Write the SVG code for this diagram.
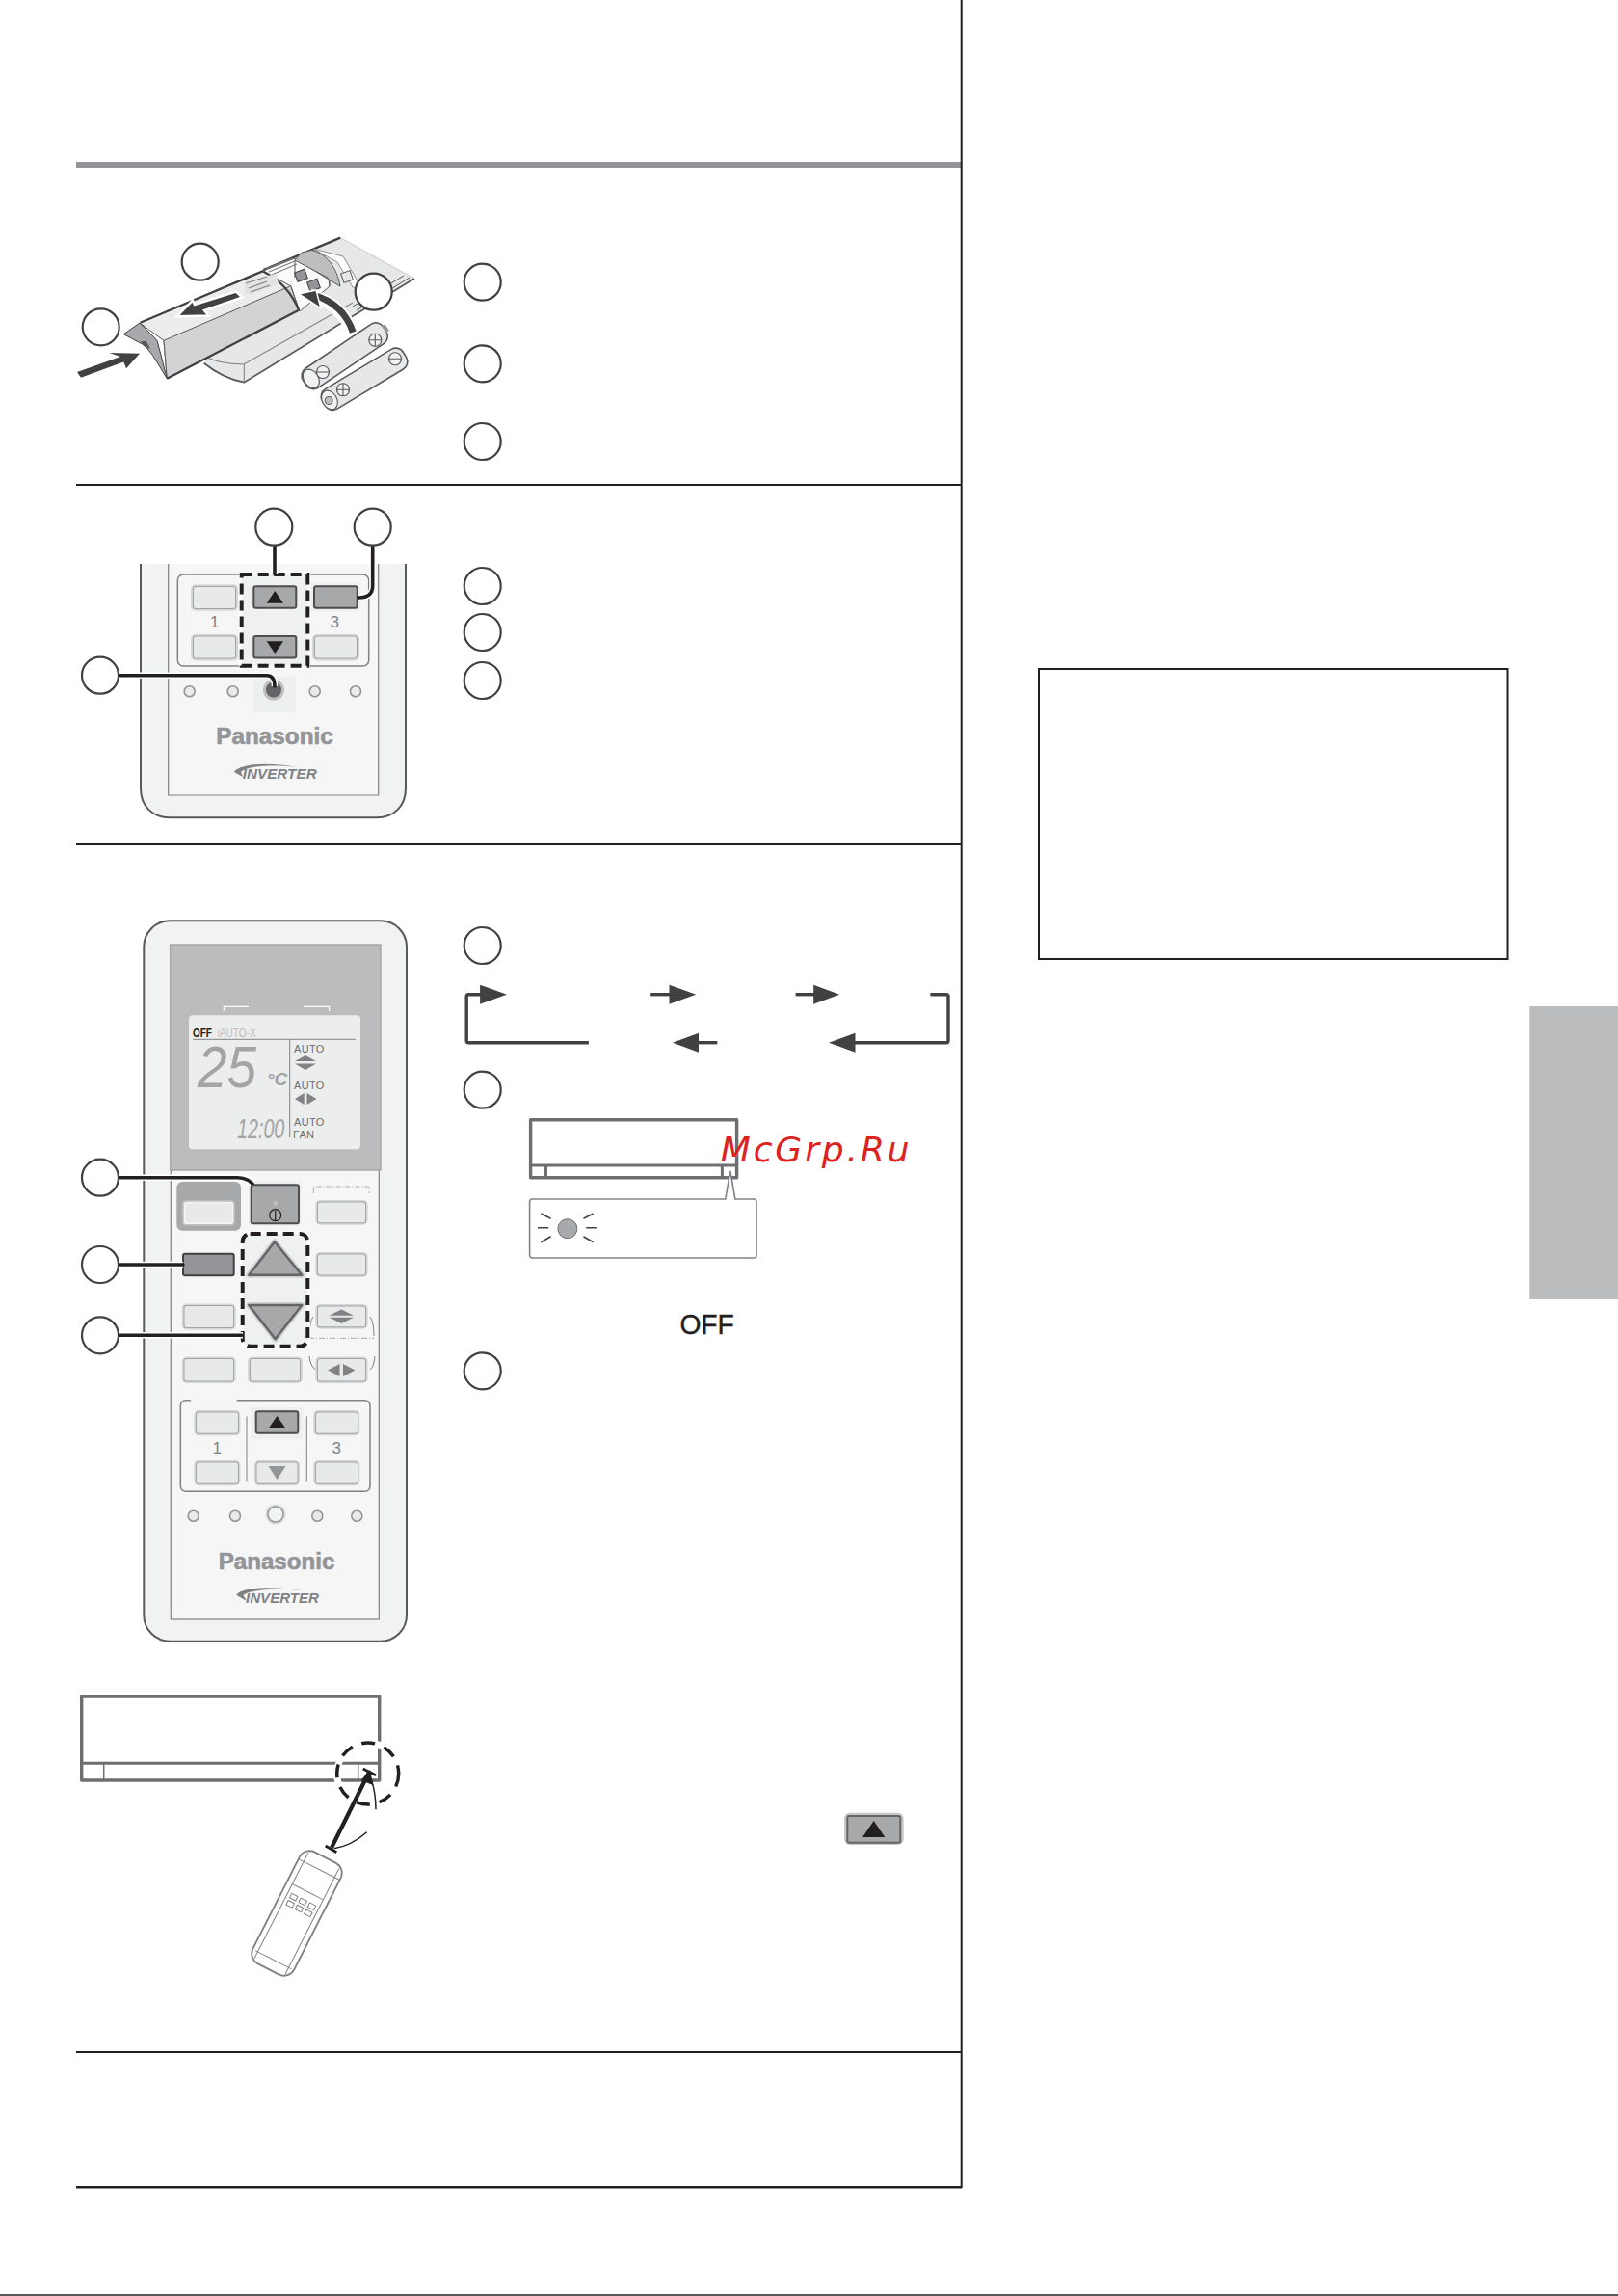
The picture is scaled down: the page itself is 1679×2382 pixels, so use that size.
<svg xmlns="http://www.w3.org/2000/svg" width="1679" height="2382" viewBox="0 0 1679 2382">
<style>
.ln{fill:none;stroke:#231f20;stroke-width:2}
.c{fill:#fff;stroke:#414042;stroke-width:2.2}
.bt{fill:#e8e9e9;stroke:#a3a4a6;stroke-width:2;paint-order:stroke}
.ht{fill:#d5d6d7}
.dk{fill:#a7a8aa;stroke:#4d4d4f;stroke-width:2}
.ring{fill:#e9eaea;stroke:#939598;stroke-width:1.6}
.logo{font-family:"Liberation Sans",Arial,sans-serif;font-weight:700;fill:#939598;stroke:#939598;stroke-width:.6;font-size:23px}
.inv{font-family:"Liberation Sans",Arial,sans-serif;font-weight:700;font-style:italic;fill:#808285;font-size:14px}
.num{font-family:"Liberation Sans",Arial,sans-serif;fill:#808285;font-size:17px;text-anchor:middle}
.lcd{font-family:"Liberation Sans",Arial,sans-serif;fill:#6d6e71;font-size:11px;letter-spacing:.3px}
.seg{font-family:"Liberation Sans",Arial,sans-serif;fill:#a3a4a6;font-style:italic}
.cn{fill:none;stroke:#231f20;stroke-width:3.6;stroke-linecap:round;stroke-linejoin:round}
.cw{fill:none;stroke:#fff;stroke-width:6.5}
.dash{fill:#eff0f0;stroke:#231f20;stroke-width:4;stroke-dasharray:11 6}
.ar{fill:none;stroke:#414042;stroke-width:3.4;stroke-linejoin:round}
.af{fill:#414042}
.unit{fill:#fff;stroke:#6d6e71;stroke-width:3.4;stroke-linejoin:round}
.unl{fill:none;stroke:#6d6e71;stroke-width:3}
.bat{fill:#e6e7e8;stroke:#58595b;stroke-width:1.6}
.sym{fill:#f1f2f2;stroke:#58595b;stroke-width:1.1}
</style>

<g id="page-rules">
<rect x="79" y="168" width="919" height="6" fill="#939598"/>
<path class="ln" d="M997.7 0V2270M79 503H998M79 876H998M79 2129H998"/>
<path d="M79 2269.3H998" stroke="#231f20" stroke-width="2.5" fill="none"/>
<path d="M0 2381H1679" stroke="#231f20" stroke-width="1.5" fill="none"/>
<rect x="1078" y="694" width="486.5" height="301" fill="#fff" stroke="#231f20" stroke-width="2"/>
<rect x="1587.3" y="1044" width="91.7" height="304" fill="#bbbcbe"/>
</g>

<g id="battery-illustration">
<path d="M273 281L353.3 246.7L430 289L253.3 396.700C235 393 222 385 211.700 376.700L230 340Z" fill="#e6e7e8"/>
<path d="M273.300 280L353.300 246.700" fill="none" stroke="#414042" stroke-width="2.400"/>
<path d="M353.300 246.700L430 289" fill="none" stroke="#c9cacb" stroke-width="1"/>
<path d="M430 289L253.300 396.700C235 393 222 385 211.700 376.700" fill="none" stroke="#58595b" stroke-width="1.800"/>
<path d="M425 288L370 322M419 286L366 318" fill="none" stroke="#58595b" stroke-width="1"/>
<path d="M253.300 396.700V377.700L366 314M213 370C225 376 238 378 253.300 377.700" fill="none" stroke="#808285" stroke-width="1.100"/>
<path d="M325 258L350 272L366 298L376 300L356 266Z" fill="#fff" stroke="#808285" stroke-width=".9"/>
<path d="M273 281L306 268L341 290L342 297L311 323L302 298Z" fill="#fbfbfb" stroke="#58595b" stroke-width="1"/>
<path d="M276 279L304 268M279 282L306 271M282 285L308 274" fill="none" stroke="#808285" stroke-width="1.300"/>
<path d="M306 270L313 262L323 259.500C338 262 350 278 353 297L341 290L340 288Z" fill="#bcbec0" stroke="#58595b" stroke-width="1"/>
<path d="M306 270V288M342 290V297" fill="none" stroke="#58595b" stroke-width="1"/>
<rect x="307" y="281" width="11" height="10" fill="#939598" stroke="#414042" stroke-width="1" transform="rotate(-20 312 286)"/>
<rect x="320" y="291" width="11" height="10" fill="#939598" stroke="#414042" stroke-width="1" transform="rotate(-20 325 296)"/>
<rect x="355" y="282" width="10" height="10" fill="#e6e7e8" stroke="#58595b" stroke-width="1" transform="rotate(-20 360 287)"/>
<path d="M145 335L273.300 281.700L301.700 296.700L310 321.700L173.300 392.700L170 353.300Z" fill="#ececed" stroke="#58595b" stroke-width="1"/>
<path d="M170 353.300L301.700 296.700L310 321.700L173.300 392.700Z" fill="#d1d3d4" stroke="#58595b" stroke-width="1"/>
<path d="M128.300 346.700L145 335L163 353.300L173.300 392.700L158.300 368.300L150 358.300Z" fill="#a7a9ac" stroke="#414042" stroke-width="1"/>
<path d="M146 334.500L273.300 281" fill="none" stroke="#414042" stroke-width="2.400"/>
<path d="M173.300 392.700L310 321.700" fill="none" stroke="#414042" stroke-width="2.400"/>
<path d="M273.300 281.700C290 290 302 302 310 321.700" fill="none" stroke="#414042" stroke-width="2.200"/>
<path d="M146 354L152 354L156 362L149 359Z" fill="#58595b"/>
<path d="M253 291L287 284L289 295L262 305L255 305Z" fill="#e1e2e3"/>
<path d="M255 294L277 287M258 299L277 292M260 303L280 296" fill="none" stroke="#808285" stroke-width="1.200"/>
<path d="M183.300 328.300L200 311.700L202 316L245 302.500L251.500 308.500L212 322L216.500 327.500Z" fill="#414042" stroke="#fff" stroke-width="2.500" stroke-linejoin="miter"/>
<path d="M145 366.700L131 382.300L128.300 375.500L84 391.700L80 386L125 370L113.300 366Z" fill="#414042"/>
<path d="M366 344C358 326 344 312 322 306" fill="none" stroke="#fff" stroke-width="13"/>
<path d="M366.300 344.700C360 326 346 312 325 306" fill="none" stroke="#414042" stroke-width="7"/>
<path d="M310 305L328 301L333 320Z" fill="#414042" stroke="#fff" stroke-width="1.500"/>
<g transform="translate(357.700 369.300) rotate(-34)"><rect class="bat" x="-50" y="-12" width="100" height="24" rx="9"/><ellipse class="sym" cx="-42" cy="0" rx="7.500" ry="10.500"/><rect x="49" y="-4" width="4" height="8" fill="#939598"/></g>
<g transform="translate(378 393.300) rotate(-31)"><rect class="bat" x="-49" y="-12" width="98" height="24" rx="9"/><ellipse class="sym" cx="-42" cy="0" rx="7.500" ry="10.500"/><circle cx="-43" cy="0" r="4" fill="#bcbec0" stroke="#58595b" stroke-width="1"/></g>
<path class="sym" d="M389.300 346.200a6.500 6.500 0 1 0 .01 0ZM382.800 352.700h13M389.300 346.200v13"/>
<path class="sym" d="M335 379.500a6.500 6.500 0 1 0 .01 0ZM328.500 386h13"/>
<path class="sym" d="M410 365.800a6.500 6.500 0 1 0 .01 0ZM403.500 372.300h13"/>
<path class="sym" d="M356 397.800a6.500 6.500 0 1 0 .01 0ZM349.500 404.300h13M356 397.800v13"/>
<circle class="c" cx="207.700" cy="271.700" r="19"/>
<circle class="c" cx="104.700" cy="339.300" r="19"/>
<circle class="c" cx="387.700" cy="302.700" r="19"/>
</g>

<g id="step-1-markers">
<circle class="c" cx="500.700" cy="292.700" r="19"/>
<circle class="c" cx="500.700" cy="377.300" r="19"/>
<circle class="c" cx="500.700" cy="458" r="19"/>
</g>

<g id="remote-crop">
<path d="M146 585V818C146 836 158 848.300 176 848.300H391C409 848.300 421 836 421 818V585Z" fill="#f1f2f2"/>
<path d="M146 585V818C146 836 158 848.300 176 848.300H391C409 848.300 421 836 421 818V585" fill="none" stroke="#58595b" stroke-width="2"/>
<path d="M174.700 585V825H392.700V585" fill="#f6f6f6" stroke="#808285" stroke-width="1.200"/>
<rect x="184.300" y="596" width="198.400" height="95" rx="6" fill="none" stroke="#808285" stroke-width="1.500"/>
<rect x="263" y="701.700" width="44" height="37.300" fill="#eeefef"/>
<rect class="ht" x="198" y="606.300" width="49" height="27.400" rx="5"/><rect class="bt" x="201" y="609" width="43" height="22" rx="2"/>
<rect class="ht" x="198" y="658" width="49" height="27.400" rx="5"/><rect class="bt" x="201" y="660.500" width="43" height="22" rx="2"/>
<rect x="322" y="604" width="52" height="30" fill="#eeefef"/>
<rect class="dk" x="326" y="608.300" width="44.700" height="22.400" rx="2"/>
<rect class="ht" x="324" y="658" width="49" height="27.400" rx="5"/><rect class="bt" x="327" y="660.500" width="43" height="22" rx="2"/>
<text class="num" x="222.700" y="651">1</text>
<text class="num" x="347.300" y="651">3</text>
<rect x="248" y="593" width="74" height="101" fill="#fff"/>
<rect class="dash" x="250.700" y="596" width="68.600" height="94.700"/>
<rect class="dk" x="263.300" y="608.300" width="44" height="22.400" rx="2"/><path d="M285.300 613L276.700 625.700H294Z" fill="#231f20"/>
<rect class="dk" x="263.300" y="660" width="44" height="22.400" rx="2"/><path d="M285.300 678L276.700 665.300H294Z" fill="#231f20"/>
<circle class="ring" cx="196.700" cy="717.300" r="5.500"/>
<circle class="ring" cx="241.700" cy="717.300" r="5.500"/>
<circle class="ring" cx="326.700" cy="717.300" r="5.500"/>
<circle class="ring" cx="369" cy="717.300" r="5.500"/>
<circle cx="284" cy="715.700" r="11" fill="#bcbec0"/><circle cx="284" cy="715.700" r="8" fill="#636466"/>
<text class="logo" x="224.300" y="772.300" textLength="121.400" lengthAdjust="spacingAndGlyphs">Panasonic</text>
<text class="inv" x="251.700" y="808.300" textLength="77" lengthAdjust="spacingAndGlyphs">INVERTER</text>
<path d="M252 806L243 801C246 795 268 789 309 796C280 793 256 795 250 801Z" fill="#808285"/>
</g>

<g id="remote-crop-callouts">
<path class="cw" d="M285 567V596M386.700 567V608Q386.700 620 372 620M123 700.700H276.700Q285 700.700 285 712"/>
<path class="cn" d="M285 566.700V596M386.700 566.700V608Q386.700 620 372 620M123.300 700.700H276.700Q285 700.700 285 712"/>
<circle class="c" cx="284.300" cy="546.700" r="19"/>
<circle class="c" cx="386.700" cy="546.700" r="19"/>
<circle class="c" cx="104" cy="700.700" r="19"/>
</g>

<g id="step-2-markers">
<circle class="c" cx="500.700" cy="608" r="19"/>
<circle class="c" cx="500.700" cy="656" r="19"/>
<circle class="c" cx="500.700" cy="706" r="19"/>
</g>

<g id="remote-full">
<rect x="149.300" y="955.300" width="272.700" height="747.400" rx="27" fill="#f1f2f2" stroke="#58595b" stroke-width="2"/>
<rect x="177.300" y="1200" width="216" height="480" fill="#f6f6f6" stroke="#808285" stroke-width="1.200"/>
<rect x="176.700" y="980" width="218.300" height="234" fill="#bbbcbe" stroke="#a7a9ac" stroke-width="1.500"/>
<path d="M232.300 1049V1044.300H258M315 1044.300H341.700V1049" fill="none" stroke="#fff" stroke-width="1.200"/>
<rect x="196" y="1053.300" width="178" height="139" rx="4" fill="#eceded"/>
<text transform="translate(200 1076) scale(.8 1)" font-family="'Liberation Sans',Arial,sans-serif" font-weight="700" font-size="12.500" fill="#231f20">OFF</text>
<text transform="translate(225.700 1076) scale(.8 1)" font-family="'Liberation Sans',Arial,sans-serif" font-size="12.500" fill="#bcbec0">iAUTO-X</text>
<path d="M200 1078.300H369M300.700 1078.300V1180" fill="none" stroke="#808285" stroke-width="1"/>
<text class="seg" transform="translate(205 1128) scale(.9 1)" font-size="61">25</text>
<text class="seg" x="277" y="1126" font-size="19" font-weight="700">°C</text>
<text class="seg" transform="translate(246 1180.500) scale(.68 1)" font-size="29">12:00</text>
<text class="lcd" x="305" y="1091.700">AUTO</text>
<path d="M317 1095L306 1101H328ZM317 1110L306 1103.500H328Z" fill="#808285"/>
<text class="lcd" x="305" y="1130">AUTO</text>
<path d="M315.700 1134V1146L306 1140ZM318.500 1134V1146L328.500 1140Z" fill="#808285"/>
<text class="lcd" x="305" y="1168">AUTO</text>
<text class="lcd" x="304" y="1180.700">FAN</text>

<rect x="183.300" y="1226" width="66.700" height="50.700" rx="6" fill="#a7a8aa"/>
<rect x="189" y="1245" width="55" height="26.700" rx="4" fill="#bcbec0"/><rect x="191.500" y="1247.500" width="50" height="21.700" rx="2" fill="#e8e9e9" stroke="#f6f6f6" stroke-width="1.500"/>
<rect x="258" y="1225" width="55" height="47" fill="#eeefef"/>
<rect class="dk" x="260.700" y="1229.300" width="49.300" height="40" rx="2"/>
<circle cx="285.700" cy="1248.300" r="2.500" fill="#bcbec0"/>
<circle cx="285.700" cy="1260.700" r="6" fill="none" stroke="#231f20" stroke-width="1.200"/><path d="M285.700 1255.500V1266" stroke="#231f20" stroke-width="1.200"/>
<path d="M325.300 1238V1231H383.300V1238" fill="none" stroke="#a7a9ac" stroke-width="1" stroke-dasharray="5 2 1 2"/>
<rect class="ht" x="327.300" y="1245" width="54.400" height="25.700" rx="5"/><rect class="bt" x="330" y="1247.500" width="49" height="20.700" rx="2"/>

<rect x="190" y="1300.700" width="52.700" height="22.600" rx="2" fill="#939598" stroke="#414042" stroke-width="2"/>
<rect class="ht" x="327.300" y="1299" width="54.400" height="26" rx="5"/><rect class="bt" x="330" y="1301.500" width="49" height="21" rx="2"/>

<rect class="ht" x="188.700" y="1352.500" width="56" height="27" rx="5"/><rect class="bt" x="191.500" y="1355" width="50.500" height="22" rx="2"/>
<rect class="ht" x="327.300" y="1353" width="54.400" height="25.700" rx="5"/><rect class="bt" x="330" y="1355.500" width="49" height="20.700" rx="2"/>
<path d="M354.300 1358.500L341.500 1364.700H367ZM354.300 1373L341.500 1366.800H367Z" fill="#808285"/>
<path d="M320 1388.300H388" fill="none" stroke="#a7a9ac" stroke-width="1" stroke-dasharray="6 2 1 2"/>
<path d="M321 1386Q321 1372 325 1366M388 1386Q388 1372 384 1366M321 1407Q322 1418 328 1421M389 1407Q388 1418 384 1421" fill="none" stroke="#808285" stroke-width="1"/>

<rect class="ht" x="188.700" y="1407.500" width="56" height="27.500" rx="5"/><rect class="bt" x="191.500" y="1410" width="50.500" height="22.500" rx="2"/>
<rect class="ht" x="257" y="1407.500" width="57" height="27.500" rx="5"/><rect class="bt" x="260" y="1410" width="51" height="22.500" rx="2"/>
<rect class="ht" x="327.300" y="1407.500" width="54.400" height="27.500" rx="5"/><rect class="bt" x="330" y="1410" width="49" height="22.500" rx="2"/>
<path d="M352.500 1415V1428L340 1421.500ZM356 1415V1428L368.500 1421.500Z" fill="#808285"/>

<path d="M198 1452.700H193.300Q187.300 1452.700 187.300 1458.700V1541.300Q187.300 1547.300 193.300 1547.300H378Q384 1547.300 384 1541.300V1458.700Q384 1452.700 378 1452.700H245.700" fill="none" stroke="#808285" stroke-width="1.500"/>
<path d="M256 1469.300V1536.700M318.300 1469.300V1536.700" fill="none" stroke="#808285" stroke-width="1"/>
<rect x="260.700" y="1460" width="53.600" height="32.700" fill="#eeefef"/>
<rect class="ht" x="201.300" y="1463" width="48" height="26.300" rx="5"/><rect class="bt" x="204" y="1465.500" width="43" height="21.300" rx="2"/>
<rect class="dk" x="265.700" y="1464.300" width="43.600" height="22.400" rx="2"/><path d="M287.500 1469L278.500 1482H296.500Z" fill="#231f20"/>
<rect class="ht" x="325.300" y="1463" width="48" height="26.300" rx="5"/><rect class="bt" x="328" y="1465.500" width="43" height="21.300" rx="2"/>
<rect class="ht" x="201.300" y="1515" width="48" height="26.300" rx="5"/><rect class="bt" x="204" y="1517.500" width="43" height="21.300" rx="2"/>
<rect class="ht" x="264" y="1515" width="47" height="26.300" rx="5"/><rect class="bt" x="266.500" y="1517.500" width="42" height="21.300" rx="2"/>
<path d="M287.500 1535L278.500 1521H296.500Z" fill="#939598"/>
<rect class="ht" x="325.300" y="1515" width="48" height="26.300" rx="5"/><rect class="bt" x="328" y="1517.500" width="43" height="21.300" rx="2"/>
<text class="num" x="225.300" y="1508">1</text>
<text class="num" x="349.300" y="1508">3</text>
<circle class="ring" cx="200.700" cy="1572.700" r="5.500"/>
<circle class="ring" cx="244" cy="1572.700" r="5.500"/>
<circle cx="286" cy="1571" r="10.500" fill="#d9dadb"/><circle cx="286" cy="1571" r="8" fill="#f1f2f2" stroke="#939598" stroke-width="1.500"/>
<circle class="ring" cx="329.300" cy="1572.700" r="5.500"/>
<circle class="ring" cx="370.300" cy="1572.700" r="5.500"/>
<text class="logo" x="226.700" y="1628.300" textLength="120.600" lengthAdjust="spacingAndGlyphs">Panasonic</text>
<text class="inv" x="255" y="1663.300" textLength="76" lengthAdjust="spacingAndGlyphs">INVERTER</text>
<path d="M256 1661L245.500 1655C248 1649 270 1644 314 1650C284 1647 258 1650 252.500 1655Z" fill="#808285"/>

<rect x="249" y="1277.500" width="73" height="122" rx="9" fill="#fff"/>
<rect class="dash" x="251.700" y="1280" width="67.600" height="116.700" rx="8"/>
<path d="M285 1288.300L258.300 1322.700H313.300Z" fill="#a7a8aa" stroke="#d0d1d2" stroke-width="6" stroke-linejoin="round"/>
<path d="M285 1288.300L258.300 1322.700H313.300Z" fill="#a7a8aa" stroke="#636466" stroke-width="2.500" stroke-linejoin="round"/>
<path d="M285.700 1389.300L258.300 1354H313.300Z" fill="#a7a8aa" stroke="#d0d1d2" stroke-width="6" stroke-linejoin="round"/>
<path d="M285.700 1389.300L258.300 1354H313.300Z" fill="#a7a8aa" stroke="#636466" stroke-width="2.500" stroke-linejoin="round"/>
</g>

<g id="remote-full-callouts">
<path class="cw" d="M123 1221.700H246Q256 1221.700 262 1228M123 1312H190M123 1385.300H252"/>
<path class="cn" d="M123.300 1221.700H246Q256 1221.700 262 1228M123.300 1312H190M123.300 1385.300H251"/>
<circle class="c" cx="104" cy="1221.700" r="19"/>
<circle class="c" cx="104" cy="1312" r="19"/>
<circle class="c" cx="104" cy="1385.300" r="19"/>
</g>

<g id="step-3-markers">
<circle class="c" cx="500.700" cy="981" r="19"/>
<circle class="c" cx="500.700" cy="1130.700" r="19"/>
<circle class="c" cx="500.700" cy="1422.300" r="19"/>
</g>

<g id="mode-cycle">
<path class="ar" d="M610.900 1081.700H486.200Q484.200 1081.700 484.200 1079.700V1033.700Q484.200 1031.700 486.200 1031.700H500"/>
<path class="af" d="M498.100 1021.700L525.900 1031.700L498.100 1041.700Z"/>
<path class="ar" d="M675.200 1031.700H695"/><path class="af" d="M694.500 1021.700L722.300 1031.700L694.500 1041.700Z"/>
<path class="ar" d="M825.600 1031.700H845"/><path class="af" d="M844.200 1021.700L871.300 1031.700L844.200 1041.700Z"/>
<path class="ar" d="M965.400 1031.700H982Q984 1031.700 984 1033.700V1079.700Q984 1081.700 982 1081.700H886"/>
<path class="af" d="M887.500 1071.700L860 1081.700L887.500 1091.700Z"/>
<path class="ar" d="M744.300 1081.700H724"/><path class="af" d="M725 1071.700L697.900 1081.700L725 1091.700Z"/>
</g>

<g id="indoor-unit-small">
<path class="unit" d="M550.600 1161.700H764.600V1221.700H550.600Z"/>
<path class="unl" d="M550.600 1209H764.600M566.500 1209V1221.700M749.400 1209V1221.700"/>
<path d="M552 1244H752.800L757.800 1215L762.900 1244H782Q785 1244 785 1247V1302Q785 1305 782 1305H552.600Q549.600 1305 549.600 1302V1247Q549.600 1244 552 1244Z" fill="#fff" stroke="#808285" stroke-width="1.600"/>
<circle cx="588.900" cy="1274.700" r="10" fill="#a7a9ac" stroke="#6d6e71" stroke-width="1"/>
<path d="M558 1273.700H569.200M561.400 1259L571.600 1264.300M561.400 1288.700L571.600 1282.700M608.200 1273.700H619M615.600 1259L605.500 1264.300M615.600 1288.700L605.500 1282.700" fill="none" stroke="#414042" stroke-width="1.600"/>
<text x="705.400" y="1384.300" font-family="'Liberation Sans',Arial,sans-serif" font-size="30" fill="#231f20" stroke="#231f20" stroke-width=".4" textLength="56.500" lengthAdjust="spacingAndGlyphs">OFF</text>
</g>

<g id="inline-button">
<rect x="876" y="1880.700" width="61.700" height="33.300" rx="6" fill="#c6c7c8"/>
<rect x="879.300" y="1884" width="55" height="27.700" rx="2" fill="#a7a8aa" stroke="#636466" stroke-width="2"/>
<path d="M906.700 1889L895 1906H918.300Z" fill="#231f20"/>
</g>

<g id="indoor-unit-range">
<path class="unit" d="M84.700 1760H393.700V1847H84.700Z"/>
<path class="unl" d="M84.700 1829.300H393.700"/>
<path d="M107.700 1829.300V1847M371.700 1829.300V1847" fill="none" stroke="#6d6e71" stroke-width="1.500"/>
<circle cx="381.700" cy="1840" r="32" fill="none" stroke="#fff" stroke-width="7"/>
<circle cx="381.700" cy="1840" r="32" fill="none" stroke="#231f20" stroke-width="3.500" stroke-dasharray="14 10"/>
<path d="M383.300 1838L344 1917" fill="none" stroke="#231f20" stroke-width="4.200"/>
<path d="M376.700 1835L390 1841.700M337.700 1915L349.300 1921.700" fill="none" stroke="#231f20" stroke-width="2.800"/>
<path d="M384 1836L374.500 1847L387 1852Z" fill="#231f20"/>
<path d="M390 1877.300C390 1866 388 1854 385 1845M380.700 1900.700C370 1910 358 1916 346.700 1917.700" fill="none" stroke="#231f20" stroke-width="1.500"/>
<g transform="translate(308 1985) rotate(27)" fill="none" stroke="#808285">
<rect x="-24" y="-65" width="48" height="130" rx="12" stroke-width="1.900"/>
<path d="M-18 -61V62M18 -61V62M-24 -51H24M-18 -25H18M-21 54H21" stroke-width="1"/>
<g stroke-width="1"><rect x="-14" y="-16" width="7" height="5"/><rect x="-3.500" y="-16" width="7" height="5"/><rect x="7" y="-16" width="7" height="5"/><rect x="-14" y="-8" width="7" height="5"/><rect x="-3.500" y="-8" width="7" height="5"/><rect x="7" y="-8" width="7" height="5"/></g>
</g>
</g>

<text id="watermark" x="747.700" y="1205" font-family="'DejaVu Sans',sans-serif" font-style="italic" font-size="36" fill="#dd2222" textLength="196" lengthAdjust="spacing">McGrp.Ru</text>
</svg>
